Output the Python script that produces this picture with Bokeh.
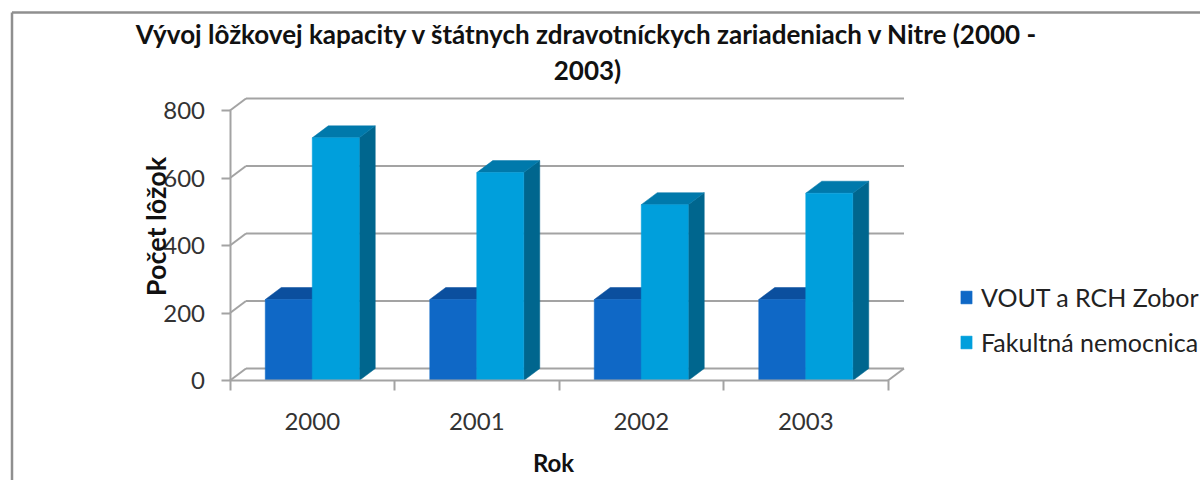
from bokeh.plotting import figure
from bokeh.embed import file_html
from bokeh.resources import INLINE
from bokeh.models import FixedTicker, Label, Legend, LegendItem, Range1d, LinearAxis
from math import pi

years = ["2000", "2001", "2002", "2003"]
vout = [240, 240, 240, 240]
fakultna = [719, 616, 521, 555]
y_ticks = [0, 200, 400, 600, 800]
series_names = ["VOUT a RCH Zobor", "Fakultná nemocnica"]
title_lines = ["Vývoj lôžkovej kapacity v štátnych zdravotníckych zariadeniach v Nitre (2000 -", "2003)"]
y_title = "Počet lôžok"
x_title = "Rok"

FONT = "Lato"
GRID = "#a3a3a3"
TICKTXT = "#333333"
BLUE = ("#0f68c6", "#0b4f9e", "#0a4a90")
CYAN = ("#009fdc", "#0079ab", "#00668e")

# page pixels <-> data
PX_X = 164.5
PX_Y = 0.3375
X0_PX, Y0_PX = 229.5, 380
W, H = 1200, 480


def X(px):
    return -0.5 + (px - X0_PX) / PX_X


def Y(py):
    return (Y0_PX - py) / PX_Y


DX = 16 / PX_X      # depth in x-units
DY = 12 / PX_Y      # depth in y-units
BW = 47 / PX_X      # bar width in x-units

p = figure(width=W, height=H, output_backend="svg", toolbar_location=None,
           x_range=Range1d(X(0), X(W)), y_range=Range1d(Y(H), Y(0)),
           min_border=0, outline_line_color=None,
           background_fill_color=None, border_fill_color="white",
           x_axis_type=None, y_axis_type=None)
p.grid.visible = False

# chart-area border: only the left and top edges show in the crop
p.segment([X(11.5), X(11.5)], [Y(12), Y(12)], [X(11.5), X(W)], [Y(H), Y(12)],
          line_color="#8f8f8f", line_width=2.5)

# axes, pinned inside the frame
yax = LinearAxis(ticker=FixedTicker(ticks=y_ticks), bounds=(0, 800), fixed_location=-0.5)
yax.axis_line_color = GRID
yax.axis_line_width = 2
yax.major_tick_line_color = GRID
yax.major_tick_line_width = 2
yax.major_tick_in = 0
yax.major_tick_out = 9
yax.minor_tick_line_color = None
yax.major_label_standoff = 16
yax.major_label_text_font = FONT
yax.major_label_text_font_size = "24px"
yax.major_label_text_color = TICKTXT
p.add_layout(yax, "left")

xs = list(range(len(years)))
xax = LinearAxis(ticker=FixedTicker(ticks=xs, minor_ticks=[i - 0.5 for i in range(len(years) + 1)]),
                 bounds=(-0.5, len(years) - 0.5), fixed_location=0)
xax.major_label_overrides = {i: y for i, y in enumerate(years)}
xax.axis_line_color = GRID
xax.axis_line_width = 2
xax.major_tick_line_color = None
xax.major_tick_in = 0
xax.major_tick_out = 0
xax.minor_tick_line_color = GRID
xax.minor_tick_line_width = 2
xax.minor_tick_in = 0
xax.minor_tick_out = 10
xax.major_label_standoff = 22
xax.major_label_text_font = FONT
xax.major_label_text_font_size = "24px"
xax.major_label_text_color = TICKTXT
p.add_layout(xax, "below")

# back wall, floor
x0, x1 = -0.5, len(years) - 0.5
n = len(y_ticks)
p.segment([x0 + DX] * n, [t + DY for t in y_ticks], [x1 + DX] * n, [t + DY for t in y_ticks],
          line_color=GRID, line_width=2)
p.segment([x0] * n, y_ticks, [x0 + DX] * n, [t + DY for t in y_ticks], line_color=GRID, line_width=2)
p.segment([x1], [0], [x1 + DX], [DY], line_color=GRID, line_width=2)


def bar3d(lefts, vals, cols):
    rights = [l + BW for l in lefts]
    top_x = [[l, l + DX, r + DX, r] for l, r in zip(lefts, rights)]
    top_y = [[v, v + DY, v + DY, v] for v in vals]
    side_x = [[r, r + DX, r + DX, r] for r in rights]
    side_y = [[0, DY, v + DY, v] for v in vals]
    p.patches(side_x, side_y, fill_color=cols[2], line_color=cols[2], line_width=0.5)
    p.patches(top_x, top_y, fill_color=cols[1], line_color=cols[1], line_width=0.5)
    return p.quad(left=lefts, right=rights, bottom=[0] * len(vals), top=vals,
                  fill_color=cols[0], line_color=cols[0], line_width=0.5)


r1 = bar3d([i - BW for i in xs], vout, BLUE)
r2 = bar3d(list(xs), fakultna, CYAN)

legend = Legend(items=[LegendItem(label=series_names[0], renderers=[r1]),
                       LegendItem(label=series_names[1], renderers=[r2])],
                location=(959, 480 - 357), orientation="vertical",
                border_line_color=None, background_fill_color=None,
                margin=0, padding=0, spacing=15, glyph_width=14, glyph_height=16,
                label_standoff=8, label_text_font=FONT, label_text_font_size="25px",
                label_text_color="#222222")
p.add_layout(legend, "center")


def text(px, py, s, size, bold=True, angle=0.0, color="#111111"):
    p.add_layout(Label(x=X(px), y=Y(py), text=s, angle=angle, text_font=FONT, text_font_size=size,
                       text_font_style="bold" if bold else "normal", text_color=color,
                       text_align="center", text_baseline="middle"))


text(587, 33, title_lines[0], "26px")
text(587, 69, title_lines[1], "26px")
text(155, 226, y_title, "27px", angle=pi / 2)
text(553, 462, x_title, "24px")

open("out.html", "w").write(file_html(p, INLINE))
